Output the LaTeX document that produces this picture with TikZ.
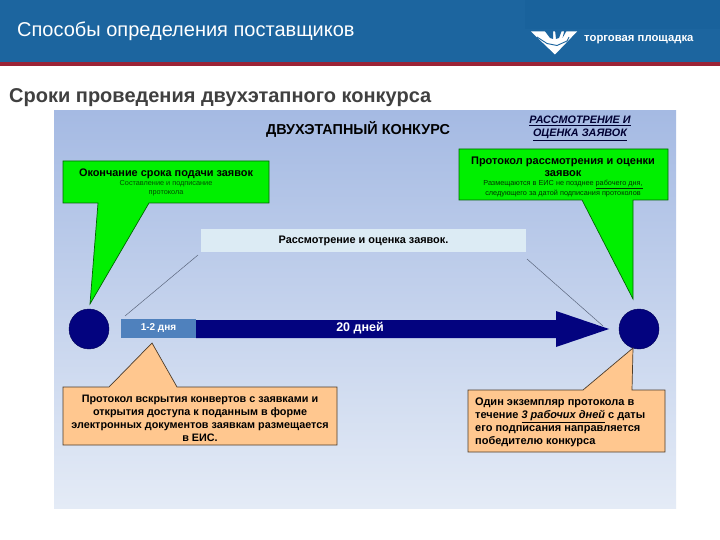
\documentclass[tikz,border=0pt]{standalone}
\usepackage{fontspec}
\setmainfont{Liberation Sans}
\definecolor{hdr}{HTML}{1C659F}
\definecolor{hdrd}{HTML}{19629C}
\definecolor{redbar}{HTML}{9B2336}
\definecolor{gtop}{HTML}{A5BAE3}
\definecolor{gbot}{HTML}{E4EBF6}
\definecolor{navy}{HTML}{03037F}
\definecolor{midb}{HTML}{4F81BD}
\definecolor{lightb}{HTML}{DCEBF4}
\definecolor{peach}{HTML}{FFC78F}
\definecolor{sub}{HTML}{404040}
\definecolor{callgreen}{HTML}{00F000}
\tikzset{
  x=1pt,y=-1pt,
  txt/.style={inner sep=0pt,align=center,text=black},
  greencall/.style={fill=callgreen,draw=black!60!green,line width=.7pt,line join=miter},
  peachcall/.style={fill=peach,draw=black!70!peach,line width=.7pt},
  thinline/.style={draw=black!45!gtop,line width=.5pt},
  dot/.style={circle,fill=navy,draw=navy!70!black,line width=.4pt,minimum size=40pt,inner sep=0pt}
}
\begin{document}
\begin{tikzpicture}
\useasboundingbox (0,0) rectangle (720,540);
\fill[white] (0,0) rectangle (720,540);
\fill[hdr] (0,0) rectangle (720,62);
\fill[hdrd] (525,0) rectangle (720,29);
\fill[redbar] (0,62) rectangle (720,66);
\node[anchor=west,inner sep=0pt,text=white,font=\fontsize{20}{24}\selectfont] (title) at (17,31.5) {Способы определения поставщиков};
\node[anchor=west,inner sep=0pt,text=sub,font=\fontsize{20}{24}\selectfont\bfseries] (subtitle) at (9,97.5) {Сроки проведения двухэтапного конкурса};
% logo
\fill[white] (531,31.5) -- (577,31.5) -- (555,54.5) -- cycle;
\fill[hdr] (544,30) -- (550,38) -- (553,39) -- (553,30) -- cycle;
\fill[hdr] (555,30) -- (556,39) -- (559,38) -- (562,30) -- cycle;
\fill[hdr] (564.5,30) -- (562.5,38) -- (567,30) -- cycle;
\draw[hdr,line width=.9pt] (537,37) -- (547,43.5) -- (557,45.5) -- (567,41) -- (569,37);
\node[anchor=west,inner sep=0pt,text=white,font=\fontsize{11.3}{13}\selectfont\bfseries] (logotext) at (584,39.5) {торговая площадка};
% panel
\shade[top color=gtop,bottom color=gbot] (54,111) rectangle (676,508);
\node[txt,font=\fontsize{14.4}{17}\selectfont\bfseries] (head) at (358,129) {ДВУХЭТАПНЫЙ КОНКУРС};
\node[txt,font=\fontsize{10.8}{13}\selectfont\bfseries\itshape,text=black!80!blue] (stage) at (580,128.5) {\underline{РАССМОТРЕНИЕ И}\\\underline{ОЦЕНКА ЗАЯВОК}};
% connectors
\coordinate (la) at (198,255);
\coordinate (lb) at (125,316);
\coordinate (ra) at (527,259);
\coordinate (rb) at (603,326);
\draw[thinline] (la) -- (lb);
\draw[thinline] (ra) -- (rb);
% light box
\node[fill=lightb,minimum width=325pt,minimum height=23pt,inner sep=0pt,font=\fontsize{10.9}{13}\selectfont\bfseries] (review) at (363.5,240.5) {\raisebox{-1pt}{Рассмотрение и оценка заявок.}};
% circles
\node[dot] (c1) at (89,329) {};
\node[dot] (c2) at (639,329) {};
% timeline
\fill[navy] (196,320) -- (556,320) -- (556,311) -- (609,329) -- (556,347) -- (556,338) -- (196,338) -- cycle;
\node[fill=midb,minimum width=75pt,minimum height=19pt,inner sep=0pt,text=white,font=\fontsize{10}{12}\selectfont\bfseries] (days12) at (158.5,328.5) {1-2 дня};
\node[txt,text=white,font=\fontsize{12.5}{15}\selectfont\bfseries] (days20) at (360,328) {20 дней};
% green callouts
\draw[greencall] (63,161) -- (269,161) -- (269,203) -- (149,203) -- (90,304) -- (98,203) -- (63,203) -- cycle;
\draw[greencall] (459,149) -- (668,149) -- (668,200) -- (633,200) -- (633,299) -- (582,200) -- (459,200) -- cycle;
\node[txt,font=\fontsize{10.9}{13}\selectfont\bfseries] (g1t) at (166,174) {Окончание срока подачи заявок};
\node[txt,font=\fontsize{7.3}{9}\selectfont,text=black!70!green] (g1s) at (166,188) {Составление и подписание\\протокола};
\node[txt,font=\fontsize{11}{12.5}\selectfont\bfseries] (g2t) at (563,167) {Протокол рассмотрения и оценки\\заявок};
\node[txt,font=\fontsize{7.3}{9.5}\selectfont,text=black!80!green] (g2s) at (563,188.5) {Размещаются в ЕИС не позднее \underline{рабочего дня,}\\следующего за датой подписания протоколов};
% peach callouts
\draw[peachcall] (63,387) -- (109,387) -- (152,343) -- (177,387) -- (337,387) -- (337,445) -- (63,445) -- cycle;
\draw[peachcall] (468,390) -- (583,390) -- (633,348) -- (632,390) -- (665,390) -- (665,452) -- (468,452) -- cycle;
\node[txt,font=\fontsize{10.8}{12.9}\selectfont\bfseries] (p1) at (200,418) {Протокол вскрытия конвертов с заявками и\\открытия доступа к поданным в форме\\электронных документов заявкам размещается\\в ЕИС.};
\node[txt,anchor=west,align=left,font=\fontsize{11}{13}\selectfont\bfseries] (p2) at (475,422) {Один экземпляр протокола в\\течение \underline{\itshape 3 рабочих дней} с даты\\его подписания направляется\\победителю конкурса};
\end{tikzpicture}
\end{document}
